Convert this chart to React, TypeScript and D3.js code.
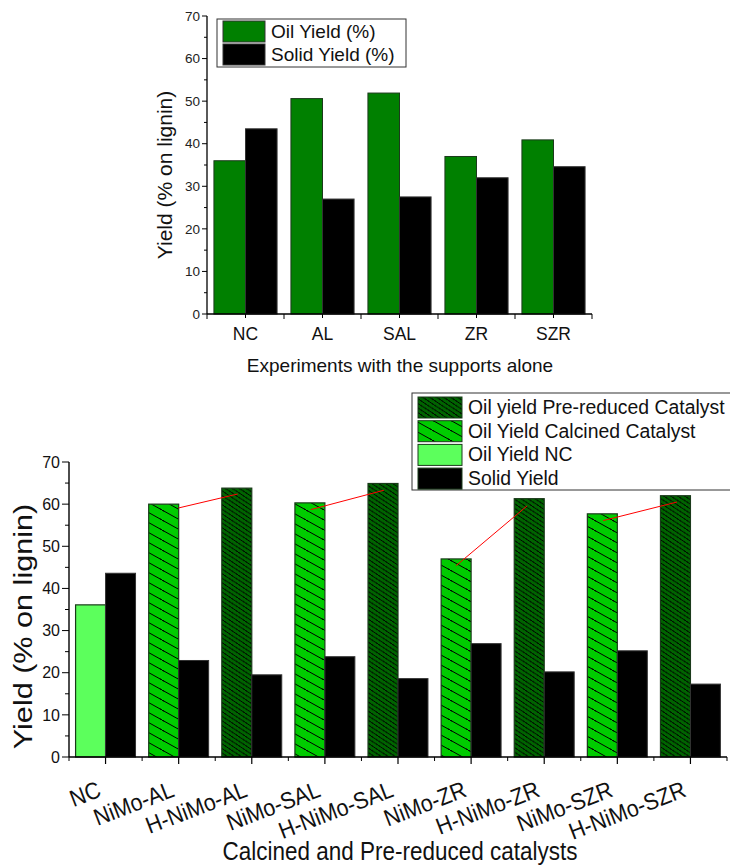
import React from "react";
import * as d3 from "d3";

// ---------- Top chart data ----------
const TOP_CATS = ["NC", "AL", "SAL", "ZR", "SZR"];
const TOP_OIL = [36.0, 50.6, 51.9, 37.0, 40.9];
const TOP_SOLID = [43.5, 27.0, 27.5, 32.0, 34.6];
const TOP_LEGEND = ["Oil Yield (%)", "Solid Yield (%)"];

// ---------- Bottom chart data ----------
const BOT_CATS = [
  "NC",
  "NiMo-AL",
  "H-NiMo-AL",
  "NiMo-SAL",
  "H-NiMo-SAL",
  "NiMo-ZR",
  "H-NiMo-ZR",
  "NiMo-SZR",
  "H-NiMo-SZR",
];
const BOT_OIL = [36.1, 60.0, 63.8, 60.3, 64.9, 47.0, 61.3, 57.7, 62.0];
const BOT_SOLID = [43.6, 22.9, 19.5, 23.8, 18.6, 26.9, 20.2, 25.2, 17.3];
const BOT_KIND = ["nc", "calc", "red", "calc", "red", "calc", "red", "calc", "red"];
const BOT_LEGEND = [
  "Oil yield Pre-reduced Catalyst",
  "Oil Yield Calcined Catalyst",
  "Oil Yield NC",
  "Solid Yield",
];
const BOT_LEGEND_KIND = ["red", "calc", "nc", "solid"];
// red connector lines: start/end category, relative x in the oil bar, value
const CONNECTORS = [
  { from: "NiMo-AL", fx: 1.0, fv: 59.1, to: "H-NiMo-AL", tx: 0.53, tv: 62.4 },
  { from: "NiMo-SAL", fx: 0.53, fv: 58.7, to: "H-NiMo-SAL", tx: 0.53, tv: 63.3 },
  { from: "NiMo-ZR", fx: 0.5, fv: 45.4, to: "H-NiMo-ZR", tx: 0.43, tv: 59.6 },
  { from: "NiMo-SZR", fx: 0.53, fv: 56.1, to: "H-NiMo-SZR", tx: 0.55, tv: 60.5 },
];

const Y_TICKS = d3.range(0, 71, 10);
const Y_MINOR = d3.range(5, 70, 10);

const FONT = "'Liberation Sans', Arial, sans-serif";

const COLORS = {
  topOil: "#008000",
  solid: "#000000",
  nc: "#5CFF5C",
  calc: "#00CC00",
  red: "#006400",
};

function fillFor(kind: string) {
  if (kind === "nc") return COLORS.nc;
  if (kind === "calc") return "url(#hatchCalc)";
  if (kind === "red") return "url(#hatchRed)";
  return COLORS.solid;
}

export default function App() {
  // ---------- Top chart scales ----------
  const tX = d3.scaleBand().domain(TOP_CATS).range([207, 592]).padding(0);
  const tY = d3.scaleLinear().domain([0, 70]).range([314, 16]);
  const tGroup = tX.bandwidth() * 0.82;
  const tBar = tGroup / 2;

  // ---------- Bottom chart scales ----------
  const bX = d3.scaleBand().domain(BOT_CATS).range([69, 727]).padding(0);
  const bY = d3.scaleLinear().domain([0, 70]).range([757, 462]);
  const bGroup = bX.bandwidth() * 0.82;
  const bBar = bGroup / 2;

  const tOilX = (c: string) => (tX(c) as number) + (tX.bandwidth() - tGroup) / 2;
  const bOilX = (c: string) => (bX(c) as number) + (bX.bandwidth() - bGroup) / 2;

  return (
    <svg
      width={730}
      height={868}
      style={{ position: "absolute", left: 0, top: 0, background: "#fff" }}
      fontFamily={FONT}
    >
      <defs>
        <pattern id="hatchCalc" patternUnits="userSpaceOnUse" width={18} height={10}>
          <rect width={18} height={10} fill={COLORS.calc} />
          <path d="M-2,-1.11 L2,1.11 M0,0 L18,10 M16,8.89 L20,11.11" stroke="#000" strokeWidth={1} />
        </pattern>
        <pattern id="hatchRed" patternUnits="userSpaceOnUse" width={7} height={4.6}>
          <rect width={7} height={4.6} fill={COLORS.red} />
          <path d="M-2,-1.31 L2,1.31 M0,0 L7,4.6 M5,3.29 L9,5.91" stroke="#000" strokeWidth={0.9} />
        </pattern>
      </defs>

      {/* ================= TOP CHART ================= */}
      <g>
        {TOP_CATS.map((c, i) => (
          <g key={c}>
            <rect
              x={tOilX(c)}
              y={tY(TOP_OIL[i])}
              width={tBar}
              height={tY(0) - tY(TOP_OIL[i])}
              fill={COLORS.topOil}
              stroke="#1c3a1c"
              strokeWidth={1}
            />
            <rect
              x={tOilX(c) + tBar}
              y={tY(TOP_SOLID[i])}
              width={tBar}
              height={tY(0) - tY(TOP_SOLID[i])}
              fill={COLORS.solid}
              stroke="#333"
              strokeWidth={1}
            />
          </g>
        ))}
        {/* axes */}
        <line x1={207} x2={207} y1={tY(70)} y2={tY(0)} stroke="#000" strokeWidth={1.3} />
        <line x1={207} x2={592} y1={tY(0)} y2={tY(0)} stroke="#000" strokeWidth={1.3} />
        {Y_TICKS.map((v) => (
          <g key={v}>
            <line x1={202} x2={207} y1={tY(v)} y2={tY(v)} stroke="#000" strokeWidth={1} />
            <text x={200} y={tY(v)} dy="0.35em" textAnchor="end" fontSize={13.5} fill="#222">
              {v}
            </text>
          </g>
        ))}
        {Y_MINOR.map((v) => (
          <line key={v} x1={204} x2={207} y1={tY(v)} y2={tY(v)} stroke="#000" strokeWidth={1} />
        ))}
        {TOP_CATS.map((c) => (
          <g key={c}>
            <line
              x1={(tX(c) as number) + tX.bandwidth()}
              x2={(tX(c) as number) + tX.bandwidth()}
              y1={tY(0)}
              y2={tY(0) + 5}
              stroke="#000"
            />
            <line
              x1={(tX(c) as number) + tX.bandwidth() / 2}
              x2={(tX(c) as number) + tX.bandwidth() / 2}
              y1={tY(0)}
              y2={tY(0) + 4}
              stroke="#000"
            />
            <text
              x={(tX(c) as number) + tX.bandwidth() / 2}
              y={340}
              textAnchor="middle"
              fontSize={17.5}
              fill="#111"
            >
              {c}
            </text>
          </g>
        ))}
        <line x1={207} x2={207} y1={tY(0)} y2={tY(0) + 5} stroke="#000" />
        <text x={400} y={372} textAnchor="middle" fontSize={19} fill="#111">
          Experiments with the supports alone
        </text>
        <text
          transform={`translate(172,${(tY(0) + tY(70)) / 2 + 10}) rotate(-90)`}
          textAnchor="middle"
          fontSize={21}
          fill="#111"
        >
          Yield (% on lignin)
        </text>
        {/* legend */}
        <rect x={217} y={19} width={189} height={48} fill="#fff" stroke="#333" strokeWidth={1} />
        {TOP_LEGEND.map((t, i) => (
          <g key={t}>
            <rect
              x={223}
              y={21 + i * 23}
              width={42}
              height={21}
              fill={i === 0 ? COLORS.topOil : COLORS.solid}
              stroke="#333"
              strokeWidth={1}
            />
            <text x={271} y={38 + i * 23} fontSize={19} fill="#111">
              {t}
            </text>
          </g>
        ))}
      </g>

      {/* ================= BOTTOM CHART ================= */}
      <g>
        {BOT_CATS.map((c, i) => (
          <g key={c}>
            <rect
              x={bOilX(c)}
              y={bY(BOT_OIL[i])}
              width={bBar}
              height={bY(0) - bY(BOT_OIL[i])}
              fill={fillFor(BOT_KIND[i])}
              stroke="#1a3a1a"
              strokeWidth={1.2}
            />
            <rect
              x={bOilX(c) + bBar}
              y={bY(BOT_SOLID[i])}
              width={bBar}
              height={bY(0) - bY(BOT_SOLID[i])}
              fill={COLORS.solid}
              stroke="#333"
              strokeWidth={1}
            />
          </g>
        ))}
        {CONNECTORS.map((k, i) => (
          <line
            key={i}
            x1={bOilX(k.from) + k.fx * bBar}
            y1={bY(k.fv)}
            x2={bOilX(k.to) + k.tx * bBar}
            y2={bY(k.tv)}
            stroke="#FF0000"
            strokeWidth={1}
          />
        ))}
        {/* axes */}
        <line x1={69} x2={69} y1={bY(70)} y2={bY(0)} stroke="#000" strokeWidth={1.4} />
        <line x1={69} x2={727} y1={bY(0)} y2={bY(0)} stroke="#000" strokeWidth={1.4} />
        {Y_TICKS.map((v) => (
          <g key={v}>
            <line x1={62} x2={69} y1={bY(v)} y2={bY(v)} stroke="#000" strokeWidth={1} />
            <text
              x={60}
              y={bY(v)}
              dy="0.36em"
              textAnchor="end"
              fontSize={16}
              fill="#111"
            >
              {v}
            </text>
          </g>
        ))}
        {Y_MINOR.map((v) => (
          <line key={v} x1={65} x2={69} y1={bY(v)} y2={bY(v)} stroke="#000" strokeWidth={1} />
        ))}
        {BOT_CATS.map((c) => {
          const cx = (bX(c) as number) + bX.bandwidth() / 2;
          const bx = (bX(c) as number) + bX.bandwidth();
          return (
            <g key={c}>
              <line x1={cx} x2={cx} y1={bY(0)} y2={bY(0) + 7} stroke="#000" strokeWidth={1.2} />
              <line x1={bx} x2={bx} y1={bY(0)} y2={bY(0) + 4} stroke="#000" strokeWidth={1} />
              <text
                transform={`translate(${cx - 3},${796}) rotate(-21) scale(1,1.1)`}
                textAnchor="end"
                fontSize={21.5}
                fill="#111"
              >
                {c}
              </text>
            </g>
          );
        })}
        <line x1={69} x2={69} y1={bY(0)} y2={bY(0) + 4} stroke="#000" />
        <text
          transform="translate(400,860) scale(1,1.12)"
          textAnchor="middle"
          fontSize={22.5}
          fill="#111"
        >
          Calcined and Pre-reduced catalysts
        </text>
        <text
          transform={`translate(32,${(bY(0) + bY(70)) / 2 + 17}) rotate(-90) scale(1.2,1)`}
          textAnchor="middle"
          fontSize={25.5}
          fill="#111"
        >
          Yield (% on lignin)
        </text>
        {/* legend */}
        <rect x={412} y={393} width={330} height={97} fill="#fff" stroke="#333" strokeWidth={1} />
        {BOT_LEGEND.map((t, i) => (
          <g key={t}>
            <rect
              x={418}
              y={397 + i * 23.7}
              width={44}
              height={21}
              fill={fillFor(BOT_LEGEND_KIND[i])}
              stroke="#1a3a1a"
              strokeWidth={1}
            />
            <text
              transform={`translate(468,${414 + i * 23.7}) scale(1,1.08)`}
              fontSize={19.4}
              fill="#111"
            >
              {t}
            </text>
          </g>
        ))}
      </g>
    </svg>
  );
}
